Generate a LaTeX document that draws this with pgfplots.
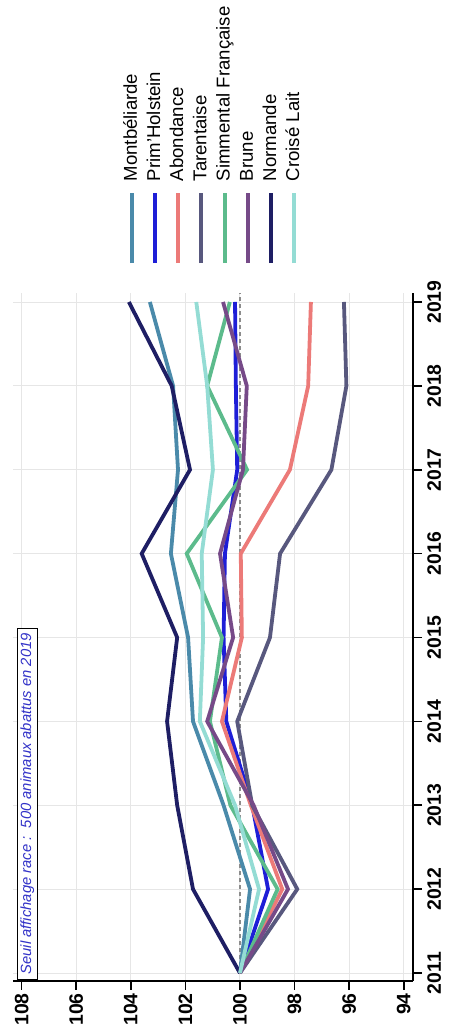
\documentclass[border=0pt]{standalone}
\usepackage{graphicx}
\usepackage{pgfplots}
\pgfplotsset{compat=1.18}
\usepackage{fontspec}
\setmainfont{Liberation Sans}

\definecolor{cMontb}{RGB}{74,138,170}
\definecolor{cPrim}{RGB}{30,30,215}
\definecolor{cAbond}{RGB}{236,122,120}
\definecolor{cTarent}{RGB}{88,88,126}
\definecolor{cSimm}{RGB}{92,187,140}
\definecolor{cBrune}{RGB}{118,74,136}
\definecolor{cNorm}{RGB}{30,30,100}
\definecolor{cCroise}{RGB}{148,220,212}
\definecolor{gridgray}{RGB}{230,230,230}
\definecolor{annot}{RGB}{50,50,200}

\begin{document}
\rotatebox{90}{%
\begin{tikzpicture}
\begin{axis}[
  scale only axis,
  width=344pt, height=200pt,
  xmin=2010.905, xmax=2019.107,
  ymin=93.66, ymax=108.315,
  xtick={2011,2012,...,2019},
  ytick={94,96,...,108},
  axis x line*=bottom, axis y line*=left,
  axis line style={line width=0.8pt, black},
  tick align=outside,
  major tick length=4.5pt,
  tick style={line width=0.8pt, black},
  grid=major,
  major grid style={line width=0.5pt, gridgray},
  /pgf/number format/assume math mode=true,
  /pgf/number format/1000 sep={},
  ticklabel style={font=\bfseries\fontsize{9.7}{11.6}\selectfont},
  xticklabel style={inner sep=2.5pt},
  yticklabel style={inner sep=1.5pt},
  legend cell align=left,
  legend style={at={(1,0.5)}, anchor=west, xshift=14pt, draw=none, fill=none,
    inner sep=0pt, outer sep=0pt, row sep=2.6pt, column sep=5pt,
    font=\fontsize{9.3}{11.2}\selectfont,
    nodes={inner sep=0pt, text height=7pt, text depth=2pt}},
  legend image code/.code={\draw[#1] (0pt,0pt) -- (35pt,0pt);},
  every axis plot/.append style={line width=1.9pt},
]
\addplot[forget plot, line width=0.8pt, color={rgb,255:red,140;green,140;blue,140}, dash pattern=on 2pt off 1.5pt]
  coordinates {(2011,100) (2019.107,100)};

\addplot[cMontb] coordinates {(2011,100) (2012,99.63) (2013,100.6) (2014,101.72) (2015,101.9) (2016,102.53) (2017,102.27) (2018,102.45) (2019,103.3)};
\addlegendentry{Montbéliarde}
\addplot[cPrim] coordinates {(2011,100) (2012,98.97) (2013,99.55) (2014,100.5) (2015,100.6) (2016,100.55) (2017,100.1) (2018,100.15) (2019,100.18)};
\addlegendentry{Prim'Holstein}
\addplot[cAbond] coordinates {(2011,100) (2012,98.45) (2013,99.6) (2014,100.66) (2015,99.93) (2016,99.97) (2017,98.17) (2018,97.5) (2019,97.4)};
\addlegendentry{Abondance}
\addplot[cTarent] coordinates {(2011,100) (2012,97.9) (2013,99.55) (2014,100.1) (2015,98.9) (2016,98.53) (2017,96.65) (2018,96.1) (2019,96.19)};
\addlegendentry{Tarentaise}
\addplot[cSimm] coordinates {(2011,100) (2012,98.62) (2013,100.35) (2014,101.1) (2015,100.66) (2016,101.95) (2017,99.74) (2018,101.2) (2019,100.37)};
\addlegendentry{Simmental Française}
\addplot[cBrune] coordinates {(2011,100) (2012,98.24) (2013,99.5) (2014,101.2) (2015,100.25) (2016,100.73) (2017,99.89) (2018,99.75) (2019,100.62)};
\addlegendentry{Brune}
\addplot[cNorm] coordinates {(2011,100) (2012,101.72) (2013,102.3) (2014,102.67) (2015,102.3) (2016,103.6) (2017,101.83) (2018,102.5) (2019,104.07)};
\addlegendentry{Normande}
\addplot[cCroise] coordinates {(2011,100) (2012,99.3) (2013,100.18) (2014,101.47) (2015,101.35) (2016,101.4) (2017,100.99) (2018,101.2) (2019,101.6)};
\addlegendentry{Croisé Lait}

\node[anchor=north west, draw=black, line width=0.5pt, fill=white,
  inner xsep=2.5pt, inner ysep=1.5pt, text=annot,
  font=\itshape\fontsize{7.4}{8.9}\selectfont]
  at ([xshift=0.5pt,yshift=-2pt]rel axis cs:0,1)
  {Seuil affichage race :\ \ 500 animaux abattus en 2019};
\coordinate (bl) at (rel axis cs:0,0);
\end{axis}
\pgfresetboundingbox
\path[use as bounding box] (bl) ++(-26.5pt,-20pt) rectangle ++(517pt,226.5pt);
\end{tikzpicture}%
}
\end{document}
